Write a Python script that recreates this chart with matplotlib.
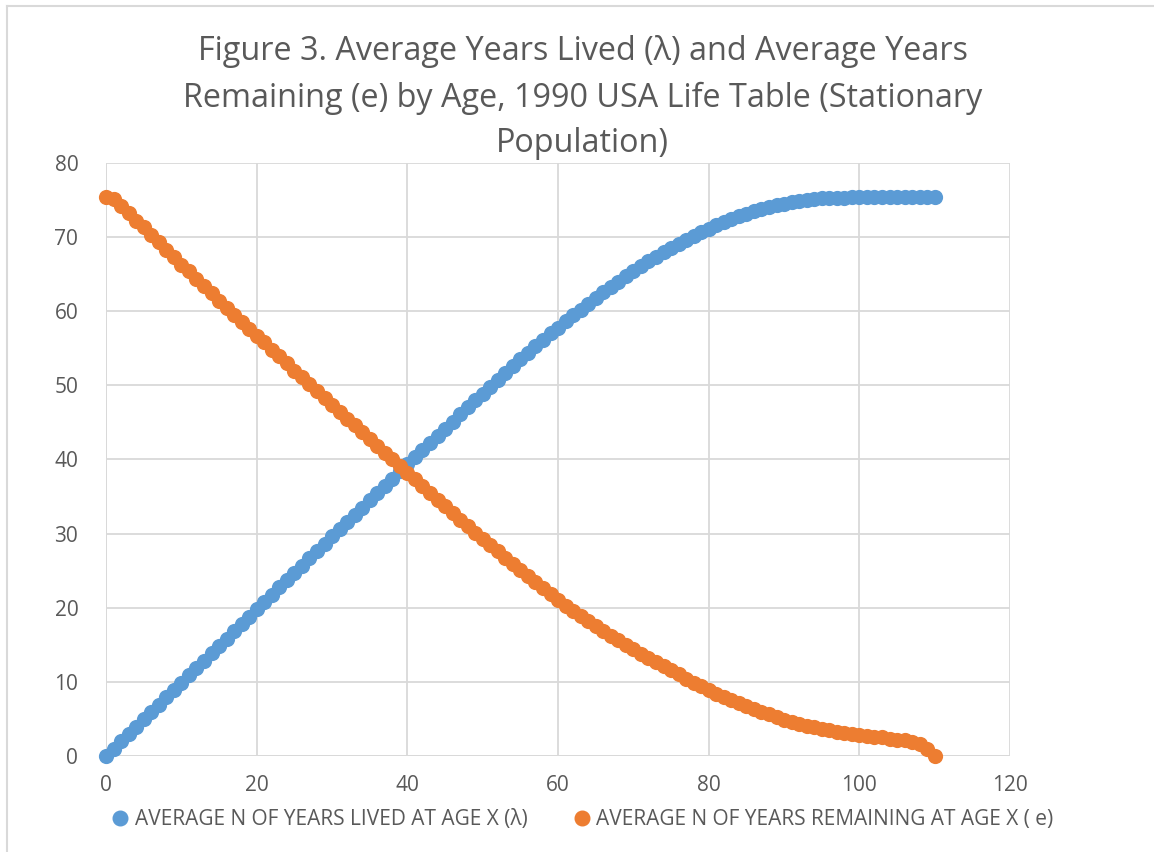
import numpy as np
import matplotlib
matplotlib.use('Agg')
import matplotlib.pyplot as plt
from matplotlib.lines import Line2D

plt.rcParams['font.family'] = ['Open Sans', 'DejaVu Sans']

# ages 0..110
age = list(range(0, 111))

# average N of years lived at age x (lambda)
lived = [0.0, 0.99, 1.98, 2.97, 3.96, 4.95, 5.94, 6.93, 7.92, 8.91,
         9.90, 10.89, 11.88, 12.87, 13.86, 14.85, 15.84, 16.83, 17.82, 18.80,
         19.79, 20.77, 21.76, 22.74, 23.72, 24.71, 25.69, 26.67, 27.65, 28.63,
         29.61, 30.59, 31.57, 32.55, 33.52, 34.50, 35.47, 36.45, 37.42, 38.39,
         39.36, 40.32, 41.29, 42.25, 43.21, 44.17, 45.12, 46.07, 47.02, 47.96,
         48.90, 49.83, 50.76, 51.68, 52.60, 53.51, 54.41, 55.30, 56.18, 57.05,
         57.80, 58.62, 59.43, 60.23, 61.01, 61.78, 62.54, 63.28, 64.00, 64.71,
         65.40, 66.07, 66.72, 67.35, 67.96, 68.55, 69.12, 69.66, 70.18, 70.68,
         71.15, 71.60, 72.02, 72.42, 72.80, 73.15, 73.47, 73.77, 74.04, 74.28,
         74.50, 74.69, 74.86, 75.00, 75.12, 75.21, 75.27, 75.31, 75.34, 75.36,
         75.37, 75.38, 75.39, 75.39, 75.40, 75.40, 75.40, 75.40, 75.40, 75.40,
         75.40]

# average N of years remaining at age x (e)
remaining = [75.4, 75.1, 74.2, 73.2, 72.2, 71.3, 70.3, 69.3, 68.3, 67.3,
             66.3, 65.4, 64.4, 63.4, 62.4, 61.4, 60.5, 59.5, 58.6, 57.6,
             56.7, 55.8, 54.8, 53.9, 53.0, 52.0, 51.1, 50.2, 49.2, 48.3,
             47.4, 46.4, 45.5, 44.6, 43.7, 42.7, 41.8, 40.9, 40.0, 39.1,
             38.2, 37.3, 36.4, 35.5, 34.6, 33.7, 32.8, 31.9, 31.0, 30.1,
             29.3, 28.4, 27.6, 26.7, 25.9, 25.1, 24.3, 23.5, 22.7, 21.9,
             21.0, 20.3, 19.6, 18.9, 18.2, 17.5, 16.9, 16.2, 15.6, 15.0,
             14.4, 13.8, 13.2, 12.7, 12.1, 11.6, 11.0, 10.4, 9.9, 9.4,
             8.9, 8.4, 8.0, 7.5, 7.1, 6.7, 6.3, 5.9, 5.6, 5.2,
             4.9, 4.6, 4.3, 4.1, 3.9, 3.7, 3.5, 3.3, 3.1, 3.0,
             2.8, 2.7, 2.6, 2.5, 2.3, 2.2, 2.1, 1.9, 1.6, 1.0,
             0.0]

xticks = [0, 20, 40, 60, 80, 100, 120]
yticks = [0, 10, 20, 30, 40, 50, 60, 70, 80]

blue = '#5b9bd5'
orange = '#ed7d31'
grey = '#595959'
grid = '#d9d9d9'

fig = plt.figure(figsize=(11.54, 8.52), dpi=100)
ax = fig.add_axes([0.0919, 0.1127, 0.7834, 0.6960])

ax.scatter(age, lived, s=120, color=blue, linewidths=0, zorder=3, clip_on=False)
ax.scatter(age, remaining, s=120, color=orange, linewidths=0, zorder=3, clip_on=False)

ax.set_xlim(0, 120)
ax.set_ylim(0, 80)
ax.set_xticks(xticks)
ax.set_yticks(yticks)
ax.tick_params(axis='x', length=0, labelsize=15, labelcolor=grey, pad=14)
ax.tick_params(axis='y', length=0, labelsize=15, labelcolor=grey, pad=20)
ax.grid(True, color=grid, linewidth=1.3, zorder=0)
for s in ax.spines.values():
    s.set_visible(False)
ax.axhline(0, color=grid, linewidth=1.3, zorder=1)
ax.axvline(0, color=grid, linewidth=1.3, zorder=1)

title_lines = ['Figure 3. Average Years Lived (\u03bb) and Average Years',
               'Remaining (e) by Age, 1990 USA Life Table (Stationary',
               'Population)']
for ty, line in zip([0.939, 0.885, 0.832], title_lines):
    fig.text(0.505, ty, line, ha='center', va='center', fontsize=23.3, color=grey)

handles = [Line2D([], [], marker='o', linestyle='none', color=blue, markersize=10.5),
           Line2D([], [], marker='o', linestyle='none', color=orange, markersize=10.5)]
fig.legend(handles,
           ['AVERAGE N OF YEARS LIVED AT AGE X (\u03bb)',
            'AVERAGE N OF YEARS REMAINING AT AGE X ( e)'],
           loc='center', bbox_to_anchor=(0.505, 0.038), ncol=2, frameon=False,
           fontsize=15, labelcolor=grey, handletextpad=0.3, columnspacing=2.2,
           handlelength=0.8)

# chart area border (left and top edges)
fig.add_artist(Line2D([7 / 1154, 7 / 1154], [0, 1 - 6 / 852], color=grid,
                      linewidth=1.5, transform=fig.transFigure))
fig.add_artist(Line2D([7 / 1154, 1], [1 - 6 / 852, 1 - 6 / 852], color=grid,
                      linewidth=1.5, transform=fig.transFigure))

fig.savefig('out.png', dpi=100)
